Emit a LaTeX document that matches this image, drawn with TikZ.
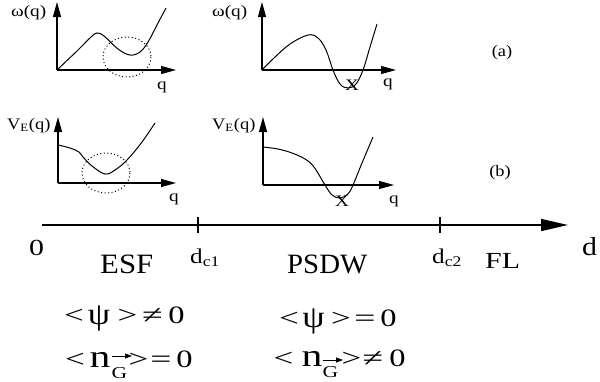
\documentclass[tikz,border=0pt]{standalone}
\usepackage{fontspec}
\setmainfont{Liberation Serif}
\usetikzlibrary{arrows.meta}
\newcommand\hx[2]{\scalebox{#1}[1]{#2}}
\begin{document}
\begin{tikzpicture}[x=1pt,y=-1pt,
  ax/.style={line width=1.1pt,-{Triangle[length=15pt,width=8pt]}},
  crv/.style={line width=1pt},
  ring/.style={line width=1pt,dash pattern=on 1pt off 2.5pt},
  lbl/.style={inner sep=0pt,font=\fontsize{16}{16}\selectfont},
  big/.style={inner sep=0pt,font=\fontsize{28}{28}\selectfont,anchor=base west},
  mid/.style={inner sep=0pt,font=\fontsize{23}{23}\selectfont,anchor=base west},
  sub/.style={inner sep=0pt,anchor=base west,font=\fontsize{21}{21}\selectfont},
  fg/.style={inner sep=0pt,anchor=base,font=\fontsize{25}{25}\selectfont},
  fpsi/.style={inner sep=0pt,anchor=base,font=\fontsize{31}{31}\selectfont},
  fn/.style={inner sep=0pt,anchor=base,font=\fontsize{32}{32}\selectfont},
  fG/.style={inner sep=0pt,anchor=base,font=\fontsize{16.6}{16.6}\selectfont},
  varr/.style={line width=0.8pt,-{Triangle[length=7pt,width=5pt]}},
  tick/.style={line width=1.5pt}]
\useasboundingbox (0,0) rectangle (600,381);

% ---------- panel 1 ----------
\coordinate (o1) at (57,70);
\coordinate (y1) at (57,2);
\coordinate (x1) at (176,70);
\draw[ax] (o1) -- (y1);
\draw[ax] (o1) -- (x1);
\draw[crv] plot[smooth,tension=0.6] coordinates {(57,70) (77,51) (91,37) (97,33) (104,36) (118,49) (130,55) (140,52) (148,42) (157,25) (166,8)};
\draw[ring] (127,57) ellipse [x radius=24,y radius=20];
\node[lbl,anchor=base west] (w1) at (11,16) {\hx{1.2}{ω(q)}};
\node[lbl,anchor=base west] (q1) at (157,89) {\hx{1.2}{q}};

% ---------- panel 2 ----------
\coordinate (o2) at (262,70);
\coordinate (y2) at (262,2);
\coordinate (x2) at (396,70);
\draw[ax] (o2) -- (y2);
\draw[ax] (o2) -- (x2);
\draw[crv] plot[smooth,tension=0.6] coordinates {(262,70) (274,58) (290,44) (308,35) (318,38) (326,50) (333,70) (340,84) (348,88) (356,84) (363,70) (370,47) (377,24)};
\node[lbl,anchor=base west] (w2) at (212,16) {\hx{1.2}{ω(q)}};
\node[lbl,anchor=base west] (q2) at (383,86) {\hx{1.2}{q}};
\node[lbl,anchor=base] (X2) at (352,90) {\hx{1.2}{X}};
\node[lbl] (la) at (502,53) {\hx{1.15}{(a)}};

% ---------- panel 3 ----------
\coordinate (o3) at (58,183);
\coordinate (y3) at (58,117);
\coordinate (x3) at (176,183);
\draw[ax] (o3) -- (y3);
\draw[ax] (o3) -- (x3);
\draw[crv] plot[smooth,tension=0.6] coordinates {(58,145) (70,148) (79,152) (83,157) (92,166) (105,174) (115,170) (127,160) (142,142) (155,123)};
\draw[ring] (106,173) ellipse [x radius=24,y radius=20];
\node[lbl,anchor=base west] (v3) at (7,129) {\hx{1.15}{V\textsubscript{E}(q)}};
\node[lbl,anchor=base west] (q3) at (169,201) {\hx{1.2}{q}};

% ---------- panel 4 ----------
\coordinate (o4) at (263,185);
\coordinate (y4) at (263,117);
\coordinate (x4) at (394,185);
\draw[ax] (o4) -- (y4);
\draw[ax] (o4) -- (x4);
\draw[crv] plot[smooth,tension=0.6] coordinates {(263,147) (278,149) (292,153) (305,159) (314,167) (325,185) (332,195) (340,198) (348,194) (353,185) (362,163) (373,137)};
\node[lbl,anchor=base west] (v4) at (212,129) {\hx{1.15}{V\textsubscript{E}(q)}};
\node[lbl,anchor=base west] (q4) at (389,203) {\hx{1.2}{q}};
\node[lbl,anchor=base] (X4) at (342,206) {\hx{1.2}{X}};
\node[lbl] (lb) at (500,173) {\hx{1.15}{(b)}};

% ---------- main axis ----------
\coordinate (m0) at (42,225);
\coordinate (m1) at (568,225);
\draw[line width=1.5pt,-{Triangle[length=27pt,width=12pt]}] (m0) -- (m1);
\coordinate (t1a) at (198,217); \coordinate (t1b) at (198,233);
\coordinate (t2a) at (440,217); \coordinate (t2b) at (440,233);
\draw[tick] (t1a) -- (t1b);
\draw[tick] (t2a) -- (t2b);
\node[mid] (zero) at (29,255) {\hx{1.3}{0}};
\node[big] (esf) at (100,273) {\hx{1.1}{ESF}};
\node[big] (psdw) at (287,273) {\hx{1.03}{PSDW}};
\node[sub] (dc1) at (190,263) {\hx{1.2}{d\textsubscript{c1}}};
\node[sub] (dc2) at (432,263) {\hx{1.2}{d\textsubscript{c2}}};
\node[mid] (fl) at (485,268) {\hx{1.3}{FL}};
\node[inner sep=0pt,anchor=base west,font=\fontsize{26}{26}\selectfont] (dd) at (582,255) {\hx{1.15}{d}};

% ---------- formulas, column 1 ----------
\node[fg] (a1) at (74,323) {\hx{1.4}{<}};
\node[fpsi] (a2) at (99,324) {\hx{1.15}{ψ}};
\node[fg] (a3) at (127.5,323) {\hx{1.4}{>}};
\node[fg] (a4) at (152.5,323) {\hx{1.5}{≠}};
\node[fg] (a5) at (176.5,323) {\hx{1.3}{0}};

\node[fg] (b1) at (75,367) {\hx{1.4}{<}};
\node[fn] (b2) at (100,367) {\hx{1.3}{n}};
\node[fG] (b3) at (119.5,378) {\hx{1.3}{G}};
\coordinate (ga1) at (112,356); \coordinate (gb1) at (132,356);
\draw[varr] (ga1) -- (gb1);
\node[fg] (b4) at (138.5,367) {\hx{1.4}{>}};
\node[fg] (b5) at (161,367) {\hx{1.5}{=}};
\node[fg] (b6) at (184.5,367) {\hx{1.3}{0}};

% ---------- formulas, column 2 ----------
\node[fg] (c1) at (289,326) {\hx{1.4}{<}};
\node[fpsi] (c2) at (313.5,327) {\hx{1.15}{ψ}};
\node[fg] (c3) at (341,326) {\hx{1.4}{>}};
\node[fg] (c4) at (365,326) {\hx{1.5}{=}};
\node[fg] (c5) at (388.5,326) {\hx{1.3}{0}};

\node[fg] (d1) at (283.5,366) {\hx{1.4}{<}};
\node[fn] (d2) at (312,366) {\hx{1.3}{n}};
\node[fG] (d3) at (330.5,377) {\hx{1.3}{G}};
\coordinate (ga2) at (323,360); \coordinate (gb2) at (343,360);
\draw[varr] (ga2) -- (gb2);
\node[fg] (d4) at (351.5,366) {\hx{1.4}{>}};
\node[fg] (d5) at (373,366) {\hx{1.5}{≠}};
\node[fg] (d6) at (397.5,366) {\hx{1.3}{0}};
\end{tikzpicture}
\end{document}
